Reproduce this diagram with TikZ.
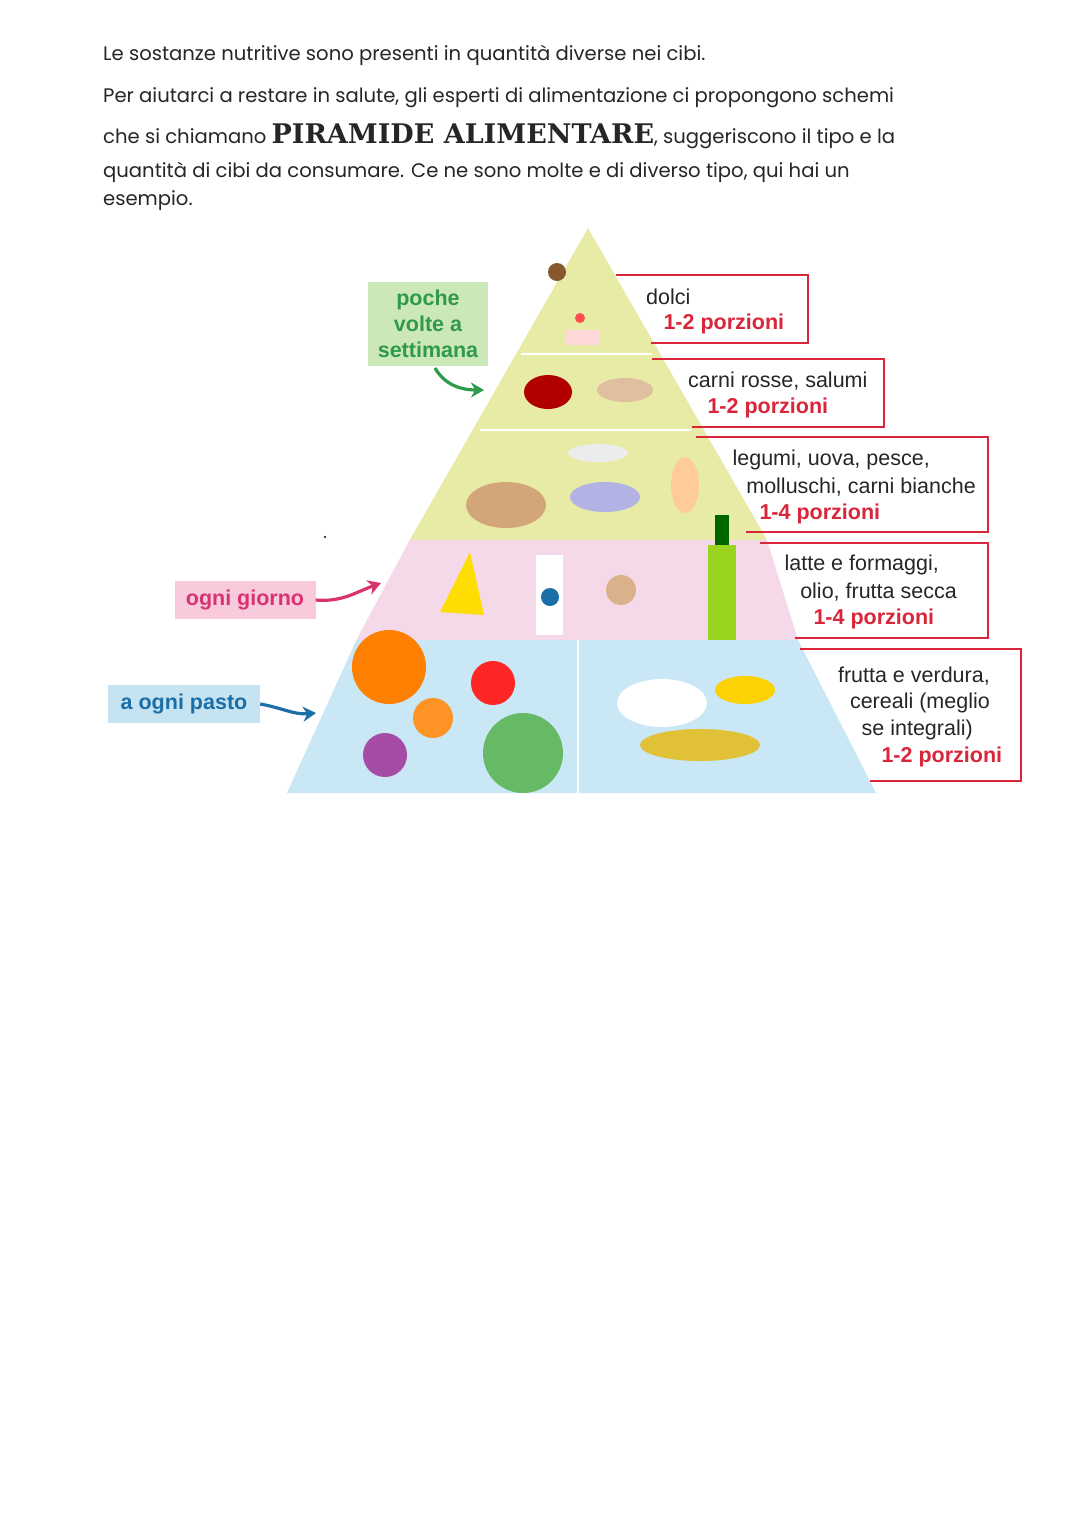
\documentclass[tikz,border=0pt]{standalone}
\usepackage{fontspec}
\setmainfont{Poppins}
\newfontfamily\lab{Liberation Sans}
\newfontfamily\slab{DejaVu Serif}
\usetikzlibrary{arrows.meta}
\definecolor{tg}{HTML}{E7EBA6}
\definecolor{tp}{HTML}{F6D9E8}
\definecolor{tb}{HTML}{C9E7F5}
\definecolor{rr}{HTML}{D9263B}
\definecolor{gg}{HTML}{2E9A4A}
\definecolor{gf}{HTML}{CDE8B8}
\definecolor{mm}{HTML}{D9336F}
\definecolor{mf}{HTML}{F8CADB}
\definecolor{bb}{HTML}{1A6FA8}
\definecolor{bf}{HTML}{C6E3F2}
\tikzset{
 body/.style={anchor=base west,inner sep=0pt,font=\fontsize{19.6}{20}\selectfont,text=black!85},
 rbox/.style={draw=rr,line width=1.6pt},
 lbl/.style={font=\lab\fontsize{21.5}{24}\selectfont,text=black!85,align=right,inner sep=0pt},
 por/.style={text=rr,font=\lab\bfseries\fontsize{21.5}{24}\selectfont},
 tag/.style={font=\lab\bfseries\fontsize{21.5}{26}\selectfont,align=center,inner sep=0pt},
 tarr/.style={line width=3.2pt,-{Stealth[length=13pt,width=15pt]}},
}
\begin{document}
\begin{tikzpicture}[x=1pt,y=-1pt]
\useasboundingbox[fill=white] (0,0) rectangle (1080,1527);
% header text
\node[body] (t1) at (103,60) {Le sostanze nutritive sono presenti in quantità diverse nei cibi.};
\node[body] (t2) at (103,102) {Per aiutarci a restare in salute, gli esperti di alimentazione ci propongono schemi};
\node[body] (t3) at (103,143) {che si chiamano {\slab\bfseries\fontsize{27}{27}\selectfont PIRAMIDE ALIMENTARE}, suggeriscono il tipo e la};
\node[body] (t4) at (103,177) {quantità di cibi da consumare. Ce ne sono molte e di diverso tipo, qui hai un};
\node[body] (t5) at (103,205) {esempio.};
% pyramid bands
\fill[tg] (588,228) -- (409.7,540) -- (767.0,540) -- cycle;
\fill[tp] (409.7,540) -- (356.4,640) -- (798.0,640) -- (767.0,540) -- cycle;
\fill[tb] (356.4,640) -- (287,793) -- (876,793) -- (798.0,640) -- cycle;
\draw[white,line width=2pt] (521,354) -- (652,354);
\draw[white,line width=2pt] (480,430) -- (691,430);
\draw[white,line width=2pt] (578,640) -- (578,793);
% red boxes
\draw[rbox] (616,275) -- (808,275) -- (808,343) -- (651,343);
\node[lbl,anchor=west] (d1) at (646,297) {dolci};
\node[por,anchor=west] (d2) at (660,324) {1-2 porzioni};
\draw[rbox] (652,359) -- (884,359) -- (884,427) -- (692,427);
\node[lbl,anchor=west] (c1) at (688,381) {carni rosse, salumi};
\node[por,anchor=west] (c2) at (704,408) {1-2 porzioni};
\draw[rbox] (696,437) -- (988,437) -- (988,532) -- (746,532);
\node[lbl,anchor=east] (l1) at (930,460) {legumi, uova, pesce,};
\node[lbl,anchor=east] (l2) at (976,487) {molluschi, carni bianche};
\node[por,anchor=west] (l3) at (756,514) {1-4 porzioni};
\draw[rbox] (760,543) -- (988,543) -- (988,638) -- (795,638);
\node[lbl,anchor=east] (m1) at (939,565) {latte e formaggi,};
\node[lbl,anchor=east] (m2) at (957,592) {olio, frutta secca};
\node[por,anchor=west] (m3) at (810,619) {1-4 porzioni};
\draw[rbox] (800,649) -- (1021,649) -- (1021,781) -- (870,781);
\node[lbl,anchor=east] (f1) at (990,676) {frutta e verdura,};
\node[lbl,anchor=east] (f2) at (990,703) {cereali (meglio};
\node[lbl,anchor=east] (f3) at (973,730) {se integrali)};
\node[por,anchor=west] (f4) at (878,757) {1-2 porzioni};
% food sketches
\fill[brown!70!black] (557,272) circle (9);
\fill[pink!60] (565,330) rectangle (600,345);
\fill[red!70] (580,318) circle (5);
\fill[red!70!black] (548,392) ellipse (24 and 17);
\fill[brown!50] (625,390) ellipse (28 and 12);
\fill[brown!70] (506,505) ellipse (40 and 23);
\fill[gray!50!blue!40] (605,497) ellipse (35 and 15);
\fill[gray!15] (598,453) ellipse (30 and 9);
\fill[orange!40] (685,485) ellipse (14 and 28);
\fill[yellow!80!orange] (440,612) -- (470,552) -- (484,615) -- cycle;
\fill[white] (536,555) rectangle (563,635);
\fill[bb] (550,597) circle (9);
\fill[brown!60] (621,590) circle (15);
\fill[yellow!60!green] (708,545) rectangle (736,640);
\fill[green!40!black] (715,515) rectangle (729,545);
\fill[orange] (389,667) circle (37);
\fill[orange!85] (433,718) circle (20);
\fill[red!85] (493,683) circle (22);
\fill[violet!70] (385,755) circle (22);
\fill[green!55!black!60] (523,753) circle (40);
\fill[white] (662,703) ellipse (45 and 24);
\fill[yellow!70!orange] (745,690) ellipse (30 and 14);
\fill[yellow!50!brown] (700,745) ellipse (60 and 16);
% side tags
\node[tag,fill=gf,text=gg,minimum width=120,minimum height=84] (pw) at (428,324) {poche\\volte a\\settimana};
\coordinate (pa) at (484,390);
\draw[gg,tarr] (435,368) to[out=-60,in=180] (pa);
\node[tag,fill=mf,text=mm,minimum width=141,minimum height=38] (og) at (245,600) {ogni giorno};
\coordinate (oa) at (381,583);
\draw[mm,tarr] (og.east) to[out=-5,in=200] (oa);
\node[tag,fill=bf,text=bb,minimum width=152,minimum height=38] (ap) at (184,704) {a ogni pasto};
\coordinate (aa) at (316,713);
\draw[bb,tarr] (ap.east) to[out=-10,in=185] (aa);
\fill (325,537) circle (1.2);
\end{tikzpicture}
\end{document}
